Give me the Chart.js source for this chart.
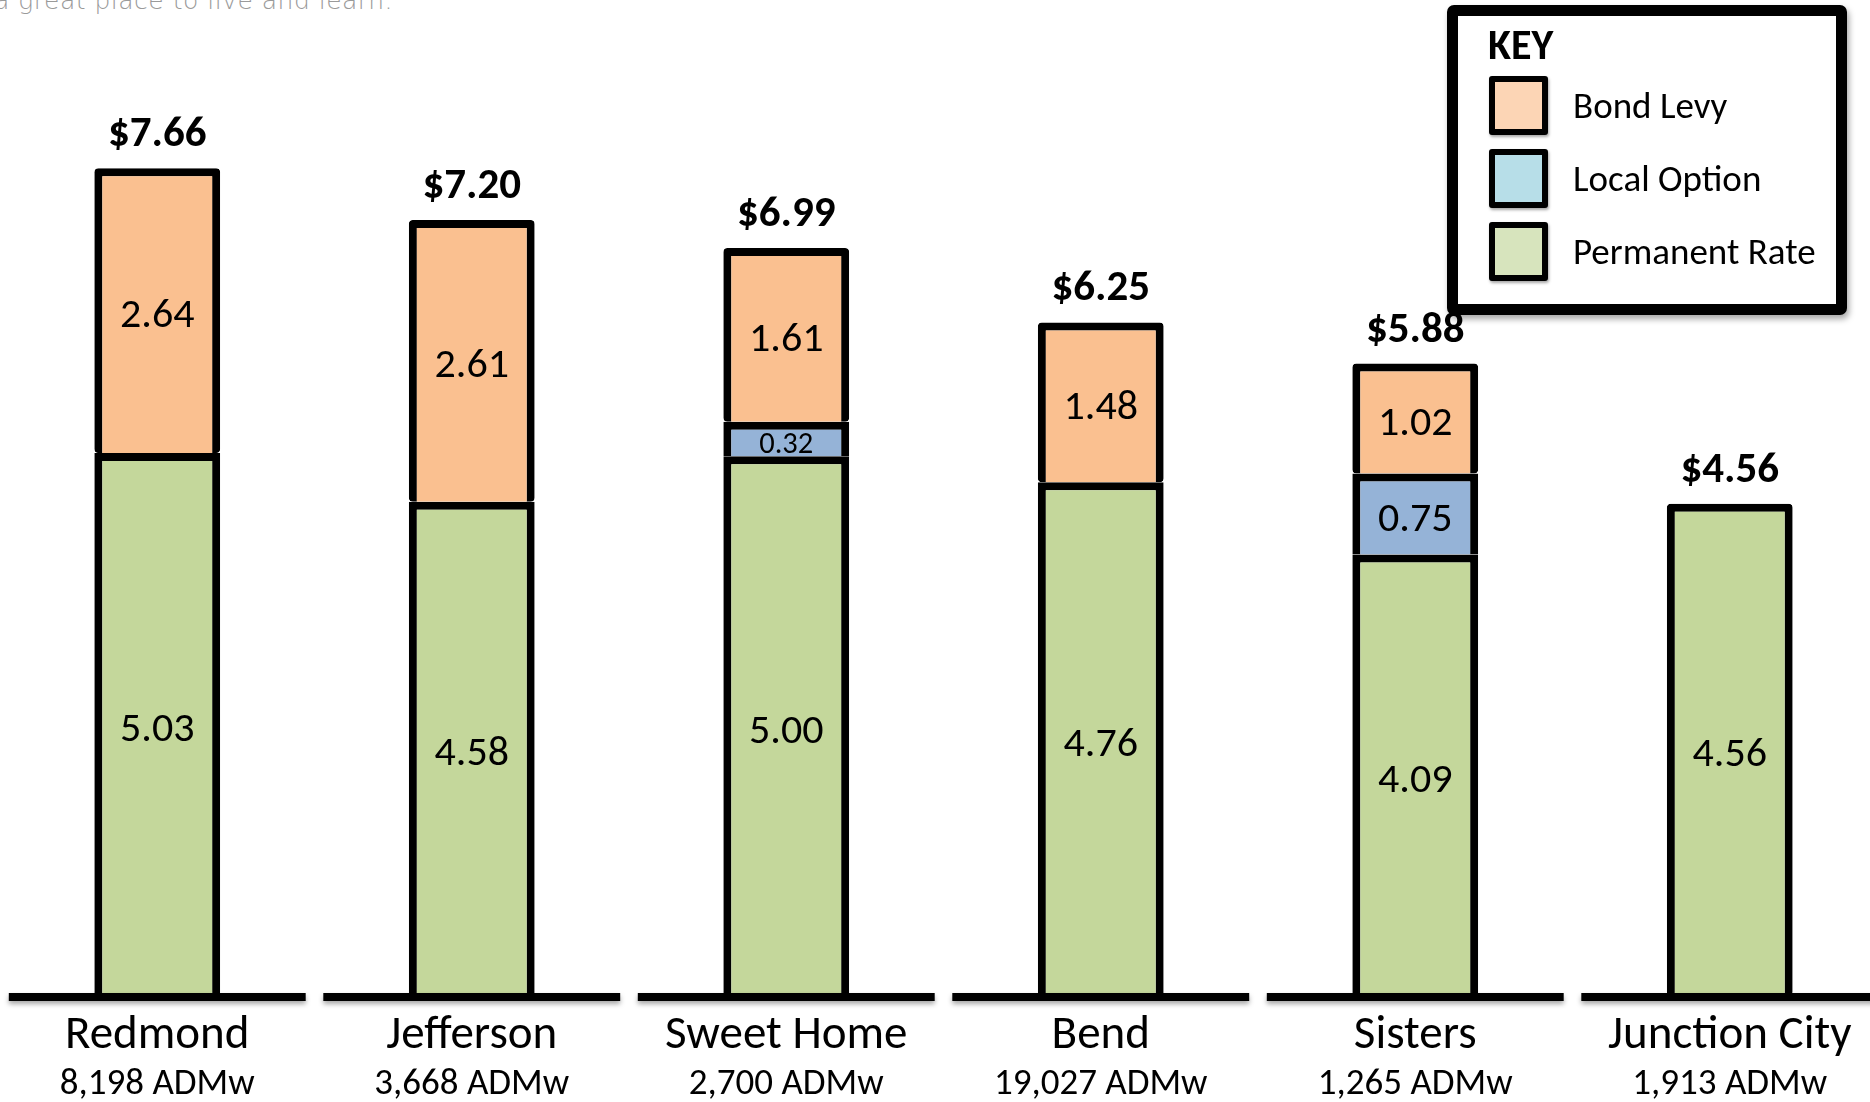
<!DOCTYPE html>
<html>
<head>
<meta charset="utf-8">
<script src="https://cdn.jsdelivr.net/npm/chart.js@4/dist/chart.umd.min.js"></script>
<style>
  html, body { margin: 0; padding: 0; background: #ffffff; overflow: hidden; width: 1870px; height: 1102px; }
  #wrap { position: absolute; left: 0; top: 0; width: 1887px; height: 1102px; }
  #tagline { position: absolute; left: -6px; top: -14px; font-family: "DejaVu Sans", sans-serif; font-weight: 200; font-size: 25px; color: #9a9a9a; white-space: nowrap; letter-spacing: 0.5px; }
  #key { position: absolute; left: 1447px; top: 5px; width: 378px; height: 288px; border: 11px solid #000; border-radius: 7px; background: #fff; box-shadow: 2px 4px 6px rgba(0,0,0,0.35); font-family: Carlito, Lato, sans-serif; }
  #key .title { position: absolute; left: 30px; top: 8px; font-weight: 700; font-size: 42px; line-height: 42px; color: #000; }
  #key .row { position: absolute; left: 31px; height: 59px; }
  #key .sw { position: absolute; left: 0; top: 0; width: 47px; height: 47px; border: 6px solid #000; border-radius: 3px; box-shadow: 1px 2px 3px rgba(0,0,0,0.35); }
  #key .lbl { position: absolute; left: 84px; top: 0; line-height: 59px; font-size: 37px; color: #000; white-space: nowrap; }
</style>
</head>
<body>
<div id="tagline">a great place to live and learn.</div>
<div id="wrap"><canvas id="c"></canvas></div>
<div id="key"></div>
<script>
// ---- data ----
const categories = ['Redmond', 'Jefferson', 'Sweet Home', 'Bend', 'Sisters', 'Junction City'];
const enrollment = ['8,198 ADMw', '3,668 ADMw', '2,700 ADMw', '19,027 ADMw', '1,265 ADMw', '1,913 ADMw'];
const permanentRate = [5.03, 4.58, 5.00, 4.76, 4.09, 4.56];
const localOption = [null, null, 0.32, null, 0.75, null];
const bondLevy = [2.64, 2.61, 1.61, 1.48, 1.02, null];
const totals = ['$7.66', '$7.20', '$6.99', '$6.25', '$5.88', '$4.56'];
const seriesNames = ['Permanent Rate', 'Local Option', 'Bond Levy'];
const keyTitle = 'KEY';

// ---- styles ----
const barColors = ['#C4D79B', '#95B3D7', '#FAC090'];
const keyColors = ['#D7E4BD', '#B7DEE8', '#FCD5B5'];
const FONT = 'Carlito, Lato, sans-serif';

// legend (top to bottom: Bond Levy, Local Option, Permanent Rate)
const key = document.getElementById('key');
const t = document.createElement('div');
t.className = 'title'; t.textContent = keyTitle; key.appendChild(t);
[2, 1, 0].forEach((si, r) => {
  const row = document.createElement('div');
  row.className = 'row';
  row.style.top = (60 + r * 73) + 'px';
  const sw = document.createElement('div');
  sw.className = 'sw'; sw.style.background = keyColors[si];
  const lb = document.createElement('div');
  lb.className = 'lbl'; lb.textContent = seriesNames[si];
  row.appendChild(sw); row.appendChild(lb); key.appendChild(row);
});

const labelsPlugin = {
  id: 'labelsPlugin',
  afterDatasetsDraw(chart) {
    const ctx = chart.ctx;
    const xs = chart.scales.x;
    const area = chart.chartArea;
    const n = categories.length;
    const catW = xs.width / n;
    ctx.save();
    // segment values
    ctx.fillStyle = '#000';
    ctx.textAlign = 'center';
    ctx.textBaseline = 'middle';
    chart.data.datasets.forEach((ds, di) => {
      const meta = chart.getDatasetMeta(di);
      meta.data.forEach((el, i) => {
        const v = ds.data[i];
        if (v === null || v === undefined) return;
        const yTop = el.y + 8; // below top border
        const innerH = el.base - yTop;
        const size = Math.min(42, Math.max(18, innerH * 1.15));
        ctx.font = size + 'px ' + FONT;
        ctx.fillText(v.toFixed(2), el.x, (yTop + el.base) / 2 + 2);
      });
    });
    // totals above each stack
    ctx.font = 'bold 43px ' + FONT;
    ctx.textBaseline = 'alphabetic';
    for (let i = 0; i < n; i++) {
      let topY = null, x = null;
      for (let di = chart.data.datasets.length - 1; di >= 0; di--) {
        const v = chart.data.datasets[di].data[i];
        if (v !== null && v !== undefined) {
          const el = chart.getDatasetMeta(di).data[i];
          topY = el.y; x = el.x; break;
        }
      }
      if (topY !== null) ctx.fillText(totals[i], x, topY - 22);
    }
    // baseline segments
    ctx.strokeStyle = '#000';
    ctx.lineWidth = 8;
    ctx.lineCap = 'butt';
    ctx.shadowColor = 'rgba(0,0,0,0.35)';
    ctx.shadowBlur = 5;
    ctx.shadowOffsetY = 3;
    for (let i = 0; i < n; i++) {
      const cx = xs.getPixelForValue(i);
      ctx.beginPath();
      ctx.moveTo(cx - catW * 0.472, area.bottom + 1);
      ctx.lineTo(cx + catW * 0.472, area.bottom + 1);
      ctx.stroke();
    }
    ctx.shadowColor = 'transparent';
    ctx.shadowBlur = 0;
    ctx.shadowOffsetY = 0;
    // category labels
    for (let i = 0; i < n; i++) {
      const cx = xs.getPixelForValue(i);
      ctx.font = '47px ' + FONT;
      ctx.fillText(categories[i], cx, 1048);
      ctx.font = '37px ' + FONT;
      ctx.fillText(enrollment[i], cx, 1094);
    }
    ctx.restore();
  }
};

const mkDs = (name, data, color) => ({
  label: name,
  data: data,
  backgroundColor: color,
  borderColor: '#000',
  borderWidth: { top: 8, left: 8, right: 8, bottom: 0 },
  borderSkipped: false,
  borderRadius: 4,
  categoryPercentage: 1.0,
  barPercentage: 0.4
});

new Chart(document.getElementById('c'), {
  type: 'bar',
  data: {
    labels: categories,
    datasets: [
      mkDs(seriesNames[0], permanentRate, barColors[0]),
      mkDs(seriesNames[1], localOption, barColors[1]),
      mkDs(seriesNames[2], bondLevy, barColors[2])
    ]
  },
  options: {
    responsive: true,
    maintainAspectRatio: false,
    animation: false,
    devicePixelRatio: 1,
    layout: { padding: { top: 3, bottom: 106, left: 0, right: 0 } },
    plugins: { legend: { display: false }, tooltip: { enabled: false } },
    scales: {
      x: { stacked: true, display: false },
      y: { stacked: true, display: false, min: 0, max: 9.2 }
    }
  },
  plugins: [labelsPlugin]
});
</script>
</body>
</html>
